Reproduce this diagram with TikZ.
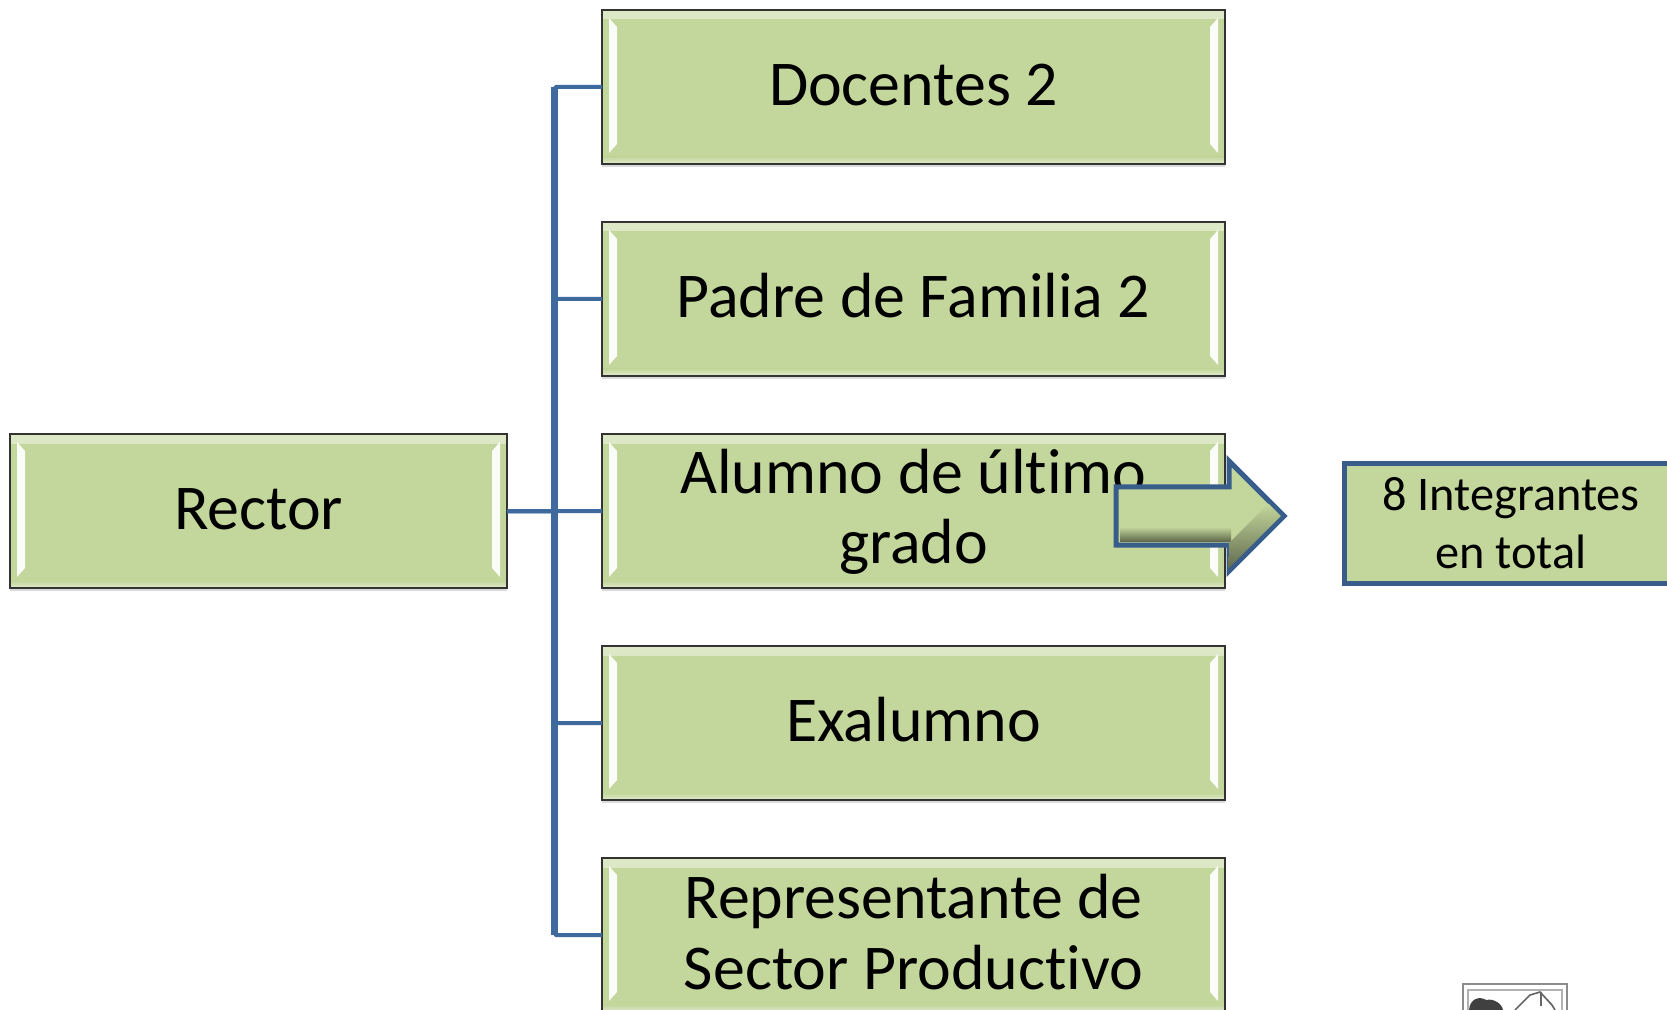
\documentclass[tikz,border=0pt]{standalone}
\usepackage{fontspec}
\setmainfont[Ligatures=NoCommon]{Carlito}
\usetikzlibrary{shapes.arrows, shadows}

\definecolor{boxgreen}{HTML}{C3D69B}
\definecolor{linkblue}{HTML}{3F6A9E}
\definecolor{edgeblue}{HTML}{385D8A}

\begin{document}
\begin{tikzpicture}[x=0.6pt,y=-0.6pt,node distance=127.2pt,
  main node/.style={rectangle,draw=black!80,line width=1.2pt,fill=boxgreen,outer sep=0pt,
    minimum width=373.8pt,minimum height=92.4pt,align=center,inner sep=0pt,
    font=\fontsize{38.3}{42.5}\selectfont,
    drop shadow={shadow xshift=0pt,shadow yshift=-2pt,opacity=.14,fill=black},
    path picture={
      \shade[top color=white!45!boxgreen,bottom color=boxgreen]
        ([shift={(0,1)}]path picture bounding box.north west) rectangle ([shift={(0,9)}]path picture bounding box.north east);
      \shade[top color=boxgreen,bottom color=white!45!boxgreen]
        ([shift={(0,-7)}]path picture bounding box.south west) rectangle ([shift={(0,-1)}]path picture bounding box.south east);
      \fill[bevel] ([shift={(7,8)}]path picture bounding box.north west) -- ([shift={(15,17)}]path picture bounding box.north west)
        -- ([shift={(15,-20)}]path picture bounding box.south west) -- ([shift={(7,-11)}]path picture bounding box.south west) -- cycle;
      \fill[bevel] ([shift={(-7,8)}]path picture bounding box.north east) -- ([shift={(-15,17)}]path picture bounding box.north east)
        -- ([shift={(-15,-20)}]path picture bounding box.south east) -- ([shift={(-7,-11)}]path picture bounding box.south east) -- cycle;
    }},
  one line/.style={text height=26pt,text depth=4pt},
  bevel/.style={fill=white!92!boxgreen},
  total node/.style={rectangle,draw=edgeblue,line width=3pt,fill=boxgreen,outer sep=0pt,
    minimum width=200pt,minimum height=72pt,align=center,inner sep=0pt,
    font=\fontsize{29}{34.4}\selectfont},
  arrow node/.style={single arrow,draw=edgeblue,line width=3pt,fill=boxgreen,outer sep=0pt,
    minimum height=100.8pt,single arrow head extend=15.5pt,inner xsep=0pt,inner ysep=16pt},
  arrow shade/.style={top color=boxgreen,bottom color=boxgreen!50!black},
  link/.style={draw=linkblue,line width=2.4pt,rounded corners=1pt}]

  \useasboundingbox (0,0) rectangle (1667,1010);
  \clip (0,0) rectangle (1667,1010);

  \node[main node,one line,minimum width=298.2pt] (rector) at (258.5,511) {Rector};
  \node[main node,one line] (docentes) at (913.5,87) {Docentes 2};
  \node[main node,one line] (padre) [below of=docentes] {Padre de Familia 2};
  \node[main node,text depth=5.5pt] (alumno) [below of=padre] {Alumno de último\\grado};
  \node[main node,one line] (exalumno) [below of=alumno] {Exalumno};
  \node[main node,text depth=3.8pt] (sector) [below of=exalumno] {Representante de\\Sector Productivo};
  \node[total node] (total) at (1511,523) {8 Integrantes\\en total};
  \node[arrow node,anchor=tip] (flecha) at (1284,516) {};

  \shade[arrow shade] ([shift={(-164,11)}]flecha.tip) rectangle ([shift={(-53,25)}]flecha.tip);
  \shade[arrow shade,shift={(flecha.tip)},shift={(-27.5,28)},rotate=45]
    (-37,-2.5) -- (37,-2.5) -- (37,-20) -- (-19,-20) -- cycle;

  \coordinate (tronco) at ([xshift=28.5pt]rector.east);
  \draw[link,line width=3.8pt] (tronco |- docentes.west) -- (tronco |- sector.west);
  \foreach \n in {docentes,padre,alumno,exalumno,sector}
    \draw[link] (rector.east) -- (tronco) |- (\n.west);

  % picture fragment
  \draw[black!45,line width=1.2pt] (1463,984) rectangle (1567,1030);
  \draw[black!30,line width=1.2pt] (1468,990) rectangle (1562,1030);
  \fill[black!75] (1469,1010) .. controls (1470,998) and (1480,996) .. (1486,1000)
    .. controls (1494,998) and (1502,1004) .. (1503,1010) -- cycle;
  \draw[black!60,line width=1pt] (1515,1010) -- (1530,995) -- (1540,992) -- (1552,1005) -- (1555,1010);
  \draw[black!60,line width=1pt] (1541,992) -- (1541,1006);
\end{tikzpicture}
\end{document}
